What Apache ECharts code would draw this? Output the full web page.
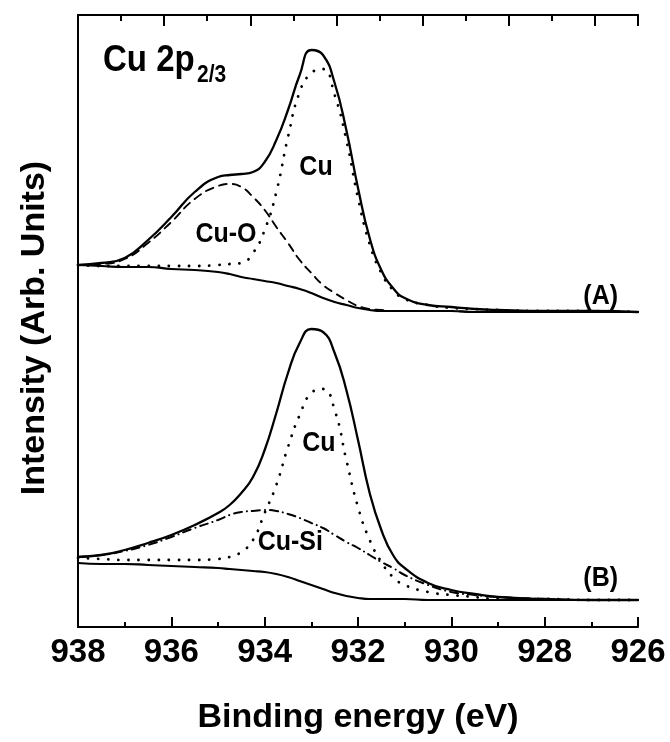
<!DOCTYPE html>
<html>
<head>
<meta charset="utf-8">
<script src="https://cdn.jsdelivr.net/npm/echarts@6/dist/echarts.min.js"></script>
<style>
  html, body { margin: 0; padding: 0; background: #fff; }
  #chart { width: 670px; height: 742px; }
</style>
</head>
<body>
<div id="chart"></div>
<script>
// binding energy (eV) shared by every curve
const energy = [938, 937.5, 937, 936.5, 936, 935.5, 935, 934.75, 934.5, 934.25, 934, 933.75, 933.5, 933.25, 933,
  932.75, 932.5, 932.25, 932, 931.75, 931.5, 931.25, 931, 930.5, 930, 929.5, 929, 928, 927, 926]

// spectrum (A): measured envelope, Cu, Cu-O and background (arb. units)
const totalA = [362, 364, 369, 387, 410, 435, 450, 452, 453, 455, 465, 487, 517, 552, 577,
  572, 544, 497, 439, 389, 357, 339, 329, 322, 320, 318, 317, 316, 316, 315]
const cuA = [362, 361, 361, 361, 361, 361, 362, 363, 364, 374, 397, 435, 490, 535, 554,
  558, 532, 487, 429, 383, 354, 337, 328, 322, 319, 318, 317, 316, 316, 315]
const cuOA = [362, 363, 368, 384, 405, 428, 441, 443, 440, 430, 417, 400, 384, 367, 354,
  342, 334, 327, 321, 318, 317, 316, 316, 316, 316, 315, 315, 315, 315, 315]
const bgA = [362, 361, 360, 360, 358, 357, 355, 353, 350, 348, 346, 344, 341, 338, 334,
  329, 325, 322, 319, 317, 316, 316, 316, 316, 316, 315, 315, 315, 315, 315]

// spectrum (B): measured envelope, Cu, Cu-Si and background
const totalB = [70, 72, 77, 84, 92, 102, 114, 122, 134, 150, 177, 214, 254, 284, 298,
  295, 274, 237, 187, 134, 97, 72, 59, 44, 37, 33, 30, 28, 27, 27]
const cuB = [69, 68, 67, 67, 67, 67, 68, 70, 75, 87, 114, 142, 180, 212, 234,
  238, 217, 167, 120, 87, 65, 50, 42, 35, 32, 30, 28, 28, 27, 27]
const cuSiB = [70, 72, 76, 82, 90, 99, 107, 112, 115, 116, 117, 116, 113, 109, 104,
  99, 92, 85, 79, 72, 65, 59, 52, 42, 35, 32, 30, 28, 27, 27]
const bgB = [64, 63, 63, 62, 61, 60, 59, 58, 57, 56, 55, 53, 50, 46, 42,
  38, 34, 31, 29, 28, 28, 28, 28, 27, 27, 27, 27, 27, 27, 27]

const xTicks = [938, 936, 934, 932, 930, 928, 926]

// peak labels, anchored at [energy, intensity]
const peakLabels = [
  { name: 'Cu', value: [932.9, 460] },
  { name: 'Cu-O', value: [934.83, 393] },
  { name: '(A)', value: [926.8, 330.5] },
  { name: 'Cu', value: [932.84, 184] },
  { name: 'Cu-Si', value: [933.45, 85] },
  { name: '(B)', value: [926.8, 48.5] }
]

const font = '"Liberation Sans", Arial, sans-serif'
const tickStyle = { color: '#000', width: 2 }

function pairs(ys) {
  return energy.map((e, i) => [e, ys[i]])
}

function curve(ys, type, width) {
  return {
    type: 'line',
    data: pairs(ys),
    symbol: 'none',
    smooth: 0.5,
    silent: true,
    lineStyle: { color: '#000', width: width, type: type, cap: 'round' }
  }
}

// top frame axis: 13 divisions that do not follow the energy scale
function topAxis(interval, len) {
  return {
    type: 'value',
    position: 'top',
    min: 0,
    max: 13,
    interval: interval,
    axisLine: { show: true, onZero: false, lineStyle: tickStyle },
    axisTick: { show: true, inside: true, length: len, lineStyle: tickStyle },
    splitLine: { show: false },
    axisLabel: { show: false }
  }
}

// bold text, stretched a little in height like the condensed face of the original
function label(id, text, x, y, size, align) {
  return {
    type: 'text',
    id: id,
    x: x,
    y: y,
    scaleY: 1.13,
    silent: true,
    style: {
      text: text,
      font: 'bold ' + size + 'px ' + font,
      fill: '#000',
      align: align,
      verticalAlign: 'middle'
    }
  }
}

const chart = echarts.init(document.getElementById('chart'))

chart.setOption({
  animation: false,
  backgroundColor: '#fff',
  grid: { left: 78, right: 32, top: 15, bottom: 115 },
  xAxis: [
    {
      type: 'value',
      min: 926,
      max: 938,
      interval: 2,
      inverse: true,
      name: 'Binding energy (eV)',
      nameLocation: 'middle',
      nameGap: 74,
      nameTextStyle: { fontFamily: font, fontWeight: 'bold', fontSize: 34, color: '#000' },
      axisLine: { lineStyle: tickStyle },
      axisTick: { inside: true, length: 10, lineStyle: tickStyle },
      minorTick: { show: true, splitNumber: 2, length: 5, lineStyle: tickStyle },
      splitLine: { show: false },
      axisLabel: {
        margin: 9,
        showMinLabel: true,
        showMaxLabel: true,
        fontFamily: font,
        fontWeight: 'bold',
        fontSize: 33,
        color: '#000',
        formatter: v => (xTicks.includes(v) ? String(v) : '')
      }
    },
    topAxis(1, 6),
    topAxis(2, 11)
  ],
  yAxis: [
    {
      type: 'value',
      min: 0,
      max: 612,
      name: 'Intensity (Arb. Units)',
      nameLocation: 'middle',
      nameGap: 26,
      nameTextStyle: { fontFamily: font, fontWeight: 'bold', fontSize: 34, color: '#000', padding: [0, 14, 0, 0] },
      axisLine: { show: true, lineStyle: tickStyle },
      axisTick: { show: false },
      axisLabel: { show: false },
      splitLine: { show: false }
    },
    {
      type: 'value',
      position: 'right',
      min: 0,
      max: 612,
      axisLine: { show: true, lineStyle: tickStyle },
      axisTick: { show: false },
      axisLabel: { show: false },
      splitLine: { show: false }
    }
  ],
  graphic: [
    label('title', 'Cu 2p', 103, 61, 33, 'left'),
    label('titleSub', '2/3', 197, 75, 21, 'left')
  ],
  series: [
    curve(bgA, 'solid', 2.2),
    curve(cuOA, [8, 6], 1.9),
    curve(cuA, [0.1, 10], 2.8),
    curve(totalA, 'solid', 2.3),
    curve(bgB, 'solid', 2.2),
    curve(cuSiB, [8, 5, 0.1, 5], 2),
    curve(cuB, [0.1, 10], 2.8),
    curve(totalB, 'solid', 2.3),
    // empty carriers so the top axes get drawn
    { type: 'scatter', xAxisIndex: 1, data: [[0, 0], [13, 0]], symbolSize: 0, silent: true },
    { type: 'scatter', xAxisIndex: 2, data: [[0, 0], [13, 0]], symbolSize: 0, silent: true }
  ]
})

// place the peak labels through the energy / intensity scales
chart.setOption({
  graphic: peakLabels.map((d, i) => {
    const p = chart.convertToPixel({ seriesIndex: 0 }, d.value)
    return label('peak' + i, d.name, p[0], p[1], 25, 'center')
  })
})
</script>
</body>
</html>
